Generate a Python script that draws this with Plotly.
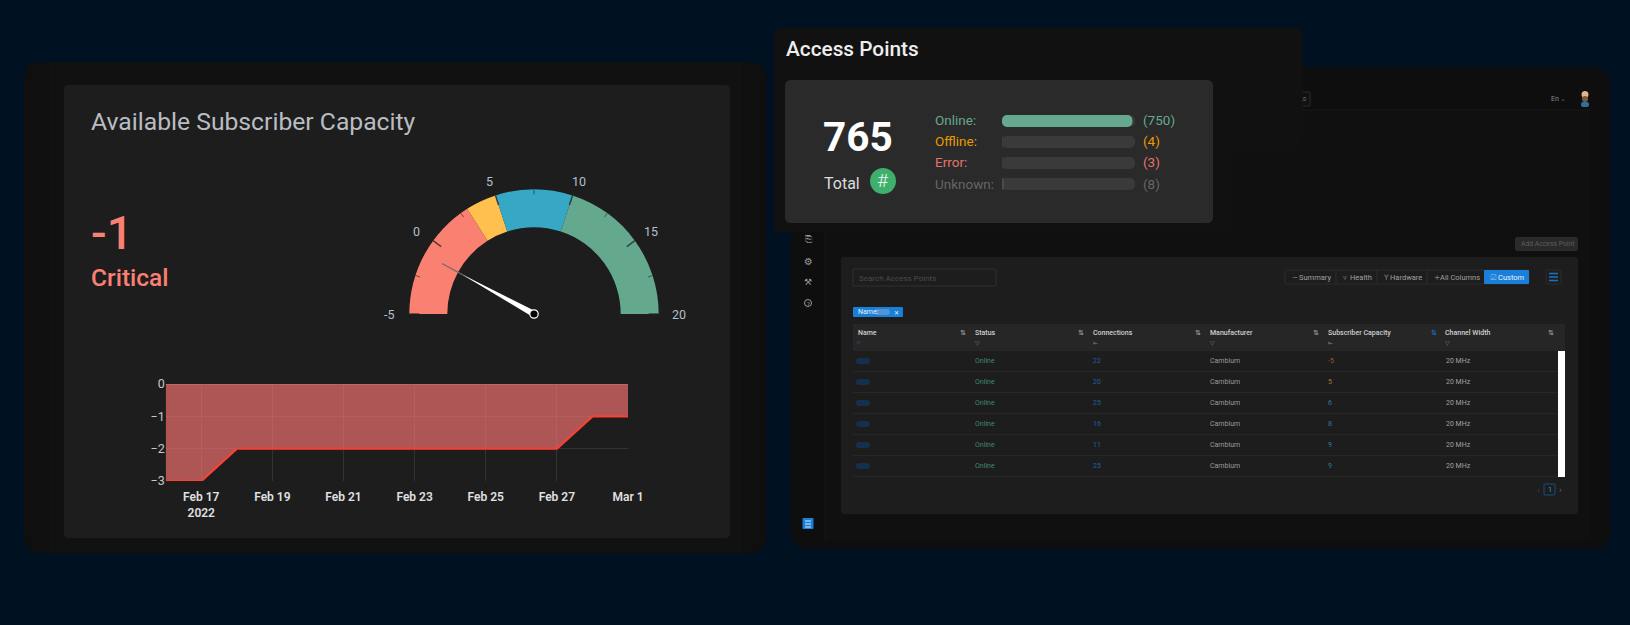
import plotly.graph_objects as go
import math

W, H = 1630, 625

# area chart
dates = ["2022-02-16", "2022-02-17", "2022-02-18", "2022-02-19", "2022-02-20", "2022-02-21", "2022-02-22",
         "2022-02-23", "2022-02-24", "2022-02-25", "2022-02-26", "2022-02-27", "2022-02-28", "2022-03-01"]
capacity = [-3, -3, -2, -2, -2, -2, -2, -2, -2, -2, -2, -2, -1, -1]

# gauge
current_value = -1
gauge_min, gauge_max = -5, 20
band_sizes = [8, 2, 5, 10]
band_colors = ["#fa8072", "#ffc04d", "#36a8c6", "#64a88e"]
gauge_labels = [-5, 0, 5, 10, 15, 20]
gauge_minor = [-2.5, 2.5, 7.5, 12.5, 17.5]

# access points card
ap_total = 765
ap_names = ["Online:", "Offline:", "Error:", "Unknown:"]
ap_counts = [750, 4, 3, 8]
ap_colors = ["#66a98e", "#e89a00", "#e5736a", "#666666"]
bar_colors = ["#66a98e", "#3a3a3a", "#3a3a3a", "#4a4a4a"]

# table
columns = ["Name", "Status", "Connections", "Manufacturer", "Subscriber Capacity", "Channel Width"]
statuses = ["Online"] * 6
connections = [22, 20, 25, 16, 11, 25]
manufacturers = ["Cambium"] * 6
sub_capacity = [-5, 5, 6, 8, 9, 9]
sub_colors = ["#a8503f", "#b07a30", "#2c7f96", "#2c7f96", "#2c7f96", "#2c7f96"]
widths = ["20 MHz"] * 6
view_buttons = ["Summary", "Health", "Hardware", "All Columns", "Custom"]

shapes = []
notes = []


def px(x):
    return x / W


def py(y):
    return 1 - y / H


def rrect(x0, y0, x1, y1, r, fill, line=None, layer="below"):
    a, b, c, d = px(x0), py(y0), px(x1), py(y1)
    rx, ry = r / W, r / H
    path = (f"M{a+rx},{b} L{c-rx},{b} Q{c},{b} {c},{b-ry} L{c},{d+ry} Q{c},{d} {c-rx},{d} "
            f"L{a+rx},{d} Q{a},{d} {a},{d+ry} L{a},{b-ry} Q{a},{b} {a+rx},{b} Z")
    shapes.append(dict(type="path", path=path, xref="paper", yref="paper", fillcolor=fill, layer=layer,
                       line=dict(color=line or "rgba(0,0,0,0)", width=1 if line else 0)))


def seg(x0, y0, x1, y1, color, width=1, layer="below"):
    shapes.append(dict(type="line", xref="paper", yref="paper", x0=px(x0), y0=py(y0), x1=px(x1), y1=py(y1),
                       line=dict(color=color, width=width), layer=layer))


def dot(x, y, r, fill, line=None, lw=0, layer="below"):
    shapes.append(dict(type="circle", xref="paper", yref="paper", x0=px(x-r), y0=py(y-r), x1=px(x+r), y1=py(y+r),
                       fillcolor=fill, line=dict(color=line or "rgba(0,0,0,0)", width=lw), layer=layer))


def label(x, y, s, size, color, anchor="left", weight=None, family="Roboto"):
    f = dict(size=size, color=color, family=family)
    if weight:
        f["weight"] = weight
    notes.append(dict(x=px(x), y=py(y), xref="paper", yref="paper", text=str(s), showarrow=False, font=f,
                      xanchor=anchor, yanchor="middle", borderpad=0))


# left tablet
rrect(24, 62, 766, 553, 16, "#0f0f0f")
rrect(49, 62, 741, 553, 0, "#111111")
rrect(64, 85, 730, 538, 5, "#1d1d1d")
label(89.5, 121, "Available Subscriber Capacity", 24.7, "#b9bdc2")
label(90, 233, current_value, 46, "#fa8072", weight=500)
label(90, 277, "Critical", 24.5, "#fa8072", weight=500)

# right tablet
rrect(791, 67, 1610, 549, 18, "#0e0e0e")
rrect(825, 110, 1590, 540, 0, "#101010")
seg(825, 67, 825, 540, "#171717")
seg(825, 110, 1590, 110, "#191919")
rrect(841, 257, 1578, 514, 3, "#1d1d1d")
rrect(1515, 237, 1578, 251, 2, "#2a2a2a")
label(1547.5, 244, "Add Access Point", 6.8, "#5c5c5c", "center")
label(1550, 99, "En", 7, "#8a8a8a")
label(1563, 99, "⌄", 7, "#666666", "center", family="DejaVu Sans")
rrect(1298, 92, 1310, 106, 1, "#111111", "#2d2d2d")
label(1304, 99, "⌕", 9, "#666666", "center", family="DejaVu Sans")
# avatar
dot(1585, 94.5, 3.5, "#e0b48c")
dot(1585, 99, 3, "#7a5a3c")
rrect(1581, 102, 1589, 107, 2, "#2f6fa0")

# sidebar
label(808, 239, "⎘", 9, "#9a9a9a", "center", family="DejaVu Sans")
label(808, 261, "⚙", 10, "#9a9a9a", "center", family="DejaVu Sans")
label(808, 282, "⚒", 9, "#9a9a9a", "center", family="DejaVu Sans")
dot(808, 303, 3.5, "rgba(0,0,0,0)", "#9a9a9a", 1)
label(808, 303, "?", 6, "#9a9a9a", "center")
rrect(802.5, 518, 813.5, 529, 1, "#1a7fd9")
seg(805, 521, 811, 521, "#dcecff")
seg(805, 524, 811, 524, "#dcecff")
seg(805, 527, 811, 527, "#dcecff")

# table controls
rrect(853, 269, 996, 286, 1, "rgba(0,0,0,0)", "#303030")
label(858, 278, "Search Access Points", 8, "#4a4a4a")
rrect(1285, 270, 1529, 284, 1, "rgba(0,0,0,0)", "#2c2c2c")
for sx in [1336, 1377, 1427]:
    seg(sx, 270, sx, 284, "#2c2c2c")
rrect(1484, 270, 1529, 284, 1, "#1a7fd9")
btn_x = [1315, 1361, 1406, 1460, 1511]
btn_icon = ["−", "▿", "Y", "+", "☑"]
icon_x = [1295, 1345, 1386, 1437, 1493]
for i, name in enumerate(view_buttons):
    c = "#e8f2fc" if name == "Custom" else "#a0a0a0"
    label(btn_x[i], 277, name, 7.5, c, "center")
    label(icon_x[i], 277, btn_icon[i], 7.5, "#9ac4ee" if name == "Custom" else "#808080", "center", family="DejaVu Sans")
rrect(1546, 270, 1561, 284, 1, "rgba(0,0,0,0)", "#2c2c2c")
for hy in [273.5, 277, 280.5]:
    seg(1549, hy, 1558, hy, "#1a6fc0", 1.6)
rrect(853, 307, 903, 317, 1, "#1a7fd9")
label(857, 312, "Name:", 7, "#eaf3fc")
rrect(875, 309, 890, 315, 3, "#4f94d6")
label(896, 312, "✕", 6, "#eaf3fc", "center", family="DejaVu Sans")

# table
rrect(853, 324, 1565, 351, 0, "#262626")
col_x = [857, 974, 1092, 1209, 1327, 1444]
sort_x = [963, 1081, 1198, 1316, 1434, 1551]
row_y = [361, 382, 403, 424, 445, 466]
for i, name in enumerate(columns):
    label(col_x[i], 333, name, 7, "#cfcfcf", weight=500)
    label(sort_x[i], 333, "⇅", 7, "#1a7fd9" if i == 4 else "#aaaaaa", "center", family="DejaVu Sans")
    if i == 0:
        label(col_x[i]+2, 342, "⌕", 7, "#1a6fc0", "center", family="DejaVu Sans")
    else:
        label(col_x[i]+3, 342, "▽" if i in (1, 3, 5) else "⇤", 6, "#777777", "center", family="DejaVu Sans")
for i, y in enumerate(row_y):
    seg(853, y+10.6, 1558, y+10.6, "#292929")
    rrect(856, y-3, 870, y+3, 3, "#15304f")
    label(974, y, statuses[i], 7, "#3f8a6c")
    label(1092, y, connections[i], 7, "#1c62a6")
    label(1209, y, manufacturers[i], 7, "#9a9a9a")
    label(1327, y, sub_capacity[i], 7, sub_colors[i])
    label(1445, y, widths[i], 7, "#a0a0a0")
rrect(1558, 351, 1565, 477, 0, "#ffffff")
label(1538, 489.5, "‹", 9, "#444444", "center")
rrect(1544, 484, 1555, 495, 1, "rgba(0,0,0,0)", "#15507f")
label(1549.5, 489.5, 1, 7.5, "#3a8fd8", "center")
label(1560, 489.5, "›", 9, "#666666", "center")

# access points overlay
rrect(774, 28, 1303, 146, 10, "#111111")
rrect(774, 80, 1230, 232, 0, "#111111")
rrect(785, 80, 1213, 223, 6, "#2a2a2a")
label(784.5, 49, "Access Points", 20.8, "#eeeeee", weight=500)
label(858, 137, ap_total, 40.5, "#ffffff", "center", weight=700)
label(823, 183.5, "Total", 16, "#dddddd")
dot(883, 181, 13, "#3fb06c")
label(883, 180, "#", 19, "#e8f8ef", "center", weight=300)
ap_y = [119.5, 141, 162, 183.5]
for i, name in enumerate(ap_names):
    label(933.5, ap_y[i], name, 13.5, ap_colors[i])
    label(1142, ap_y[i], f"({ap_counts[i]})", 13.5, ap_colors[i])


# gauge geometry
gx, gy, gr, gin = 534, 314, 124.7, 86.7


def gauge_point(v, rx, ry=None):
    a = math.pi * (1 - (v - gauge_min) / (gauge_max - gauge_min))
    return gx + rx * math.cos(a), gy - (ry or rx) * math.sin(a)


for v in gauge_labels:
    x0, y0 = gauge_point(v, gr)
    x1, y1 = gauge_point(v, gr - 10)
    seg(x0, y0, x1, y1, "rgba(35,35,35,0.75)", 1.5, "above")
    lx, ly = gauge_point(v, gr + 20, gr + 15)
    label(lx, ly, v, 12.5, "#b4bfcc", "center")
for v in gauge_minor:
    x0, y0 = gauge_point(v, gr)
    x1, y1 = gauge_point(v, gr - 5)
    seg(x0, y0, x1, y1, "rgba(35,35,35,0.6)", 1, "above")

# needle
tipx, tipy = gauge_point(current_value, 105)
seg(gx, gy, tipx, tipy, "#6a6a6a", 1.2, "above")
ang = math.atan2(tipy - gy, tipx - gx)
nx, ny = -math.sin(ang) * 3.2, math.cos(ang) * 3.2
midx, midy = gauge_point(current_value, 82)
shapes.append(dict(type="path", xref="paper", yref="paper", layer="above", fillcolor="#ffffff",
                   line=dict(width=0),
                   path=f"M{px(gx+nx)},{py(gy+ny)} L{px(midx)},{py(midy)} L{px(gx-nx)},{py(gy-ny)} Z"))
dot(gx, gy, 4.2, "#000000", "#ffffff", 1.2, "above")

fig = go.Figure()

fig.add_trace(go.Pie(values=band_sizes + [gauge_max - gauge_min], sort=False, direction="clockwise", rotation=270,
                     hole=gin / gr, textinfo="none", hoverinfo="skip", showlegend=False,
                     marker=dict(colors=band_colors + ["rgba(0,0,0,0)"], line=dict(width=0)),
                     domain=dict(x=[px(gx - gr), px(gx + gr)], y=[py(gy + gr), py(gy - gr)])))

fig.add_trace(go.Scatter(x=dates, y=capacity, mode="lines", fill="tozeroy", fillcolor="rgba(250,115,115,0.66)",
                         line=dict(color="#f44336", width=2.4), hoverinfo="skip", showlegend=False,
                         xaxis="x", yaxis="y"))

# progress bars, an explicit base makes plotly round both ends
for vals, cols in [([ap_total] * 4, ["#3a3a3a"] * 4), (ap_counts, bar_colors)]:
    fig.add_trace(go.Bar(y=ap_names, x=vals, base=[0] * 4, orientation="h", marker=dict(color=cols, line=dict(width=0)),
                         hoverinfo="skip", showlegend=False, xaxis="x2", yaxis="y2"))

fig.update_layout(
    width=W, height=H, margin=dict(l=0, r=0, t=0, b=0, autoexpand=False), autosize=False,
    paper_bgcolor="#001122", plot_bgcolor="rgba(0,0,0,0)",
    font=dict(family="Roboto", color="#dddddd"),
    barmode="overlay", bargap=0.43, barcornerradius=6,
    shapes=shapes, annotations=notes,
    xaxis=dict(domain=[px(165.7), px(628)], type="date", range=["2022-02-16", "2022-03-01"],
               tick0="2022-02-17", dtick=2 * 86400000, showgrid=True, gridcolor="#333333", gridwidth=1,
               showline=False, zeroline=False, ticks="outside", ticklen=5, tickcolor="rgba(0,0,0,0)",
               tickfont=dict(size=12, color="#e0e0e0", weight=600)),
    yaxis=dict(domain=[py(481), py(384)], range=[-3, 0], dtick=1, showgrid=True, gridcolor="#333333",
               zeroline=True, zerolinecolor="#4a4a4a", zerolinewidth=1, ticks="",
               tickfont=dict(size=12.5, color="#c8c8c8")),
    xaxis2=dict(domain=[px(1002), px(1135)], range=[0, ap_total], visible=False),
    yaxis2=dict(domain=[py(194.5), py(110.5)], anchor="x2", visible=False, type="category",
                categoryorder="array", categoryarray=ap_names[::-1]),
)

fig.write_html("out.html", config=dict(displayModeBar=False), post_script="document.body.style.margin='0';")
